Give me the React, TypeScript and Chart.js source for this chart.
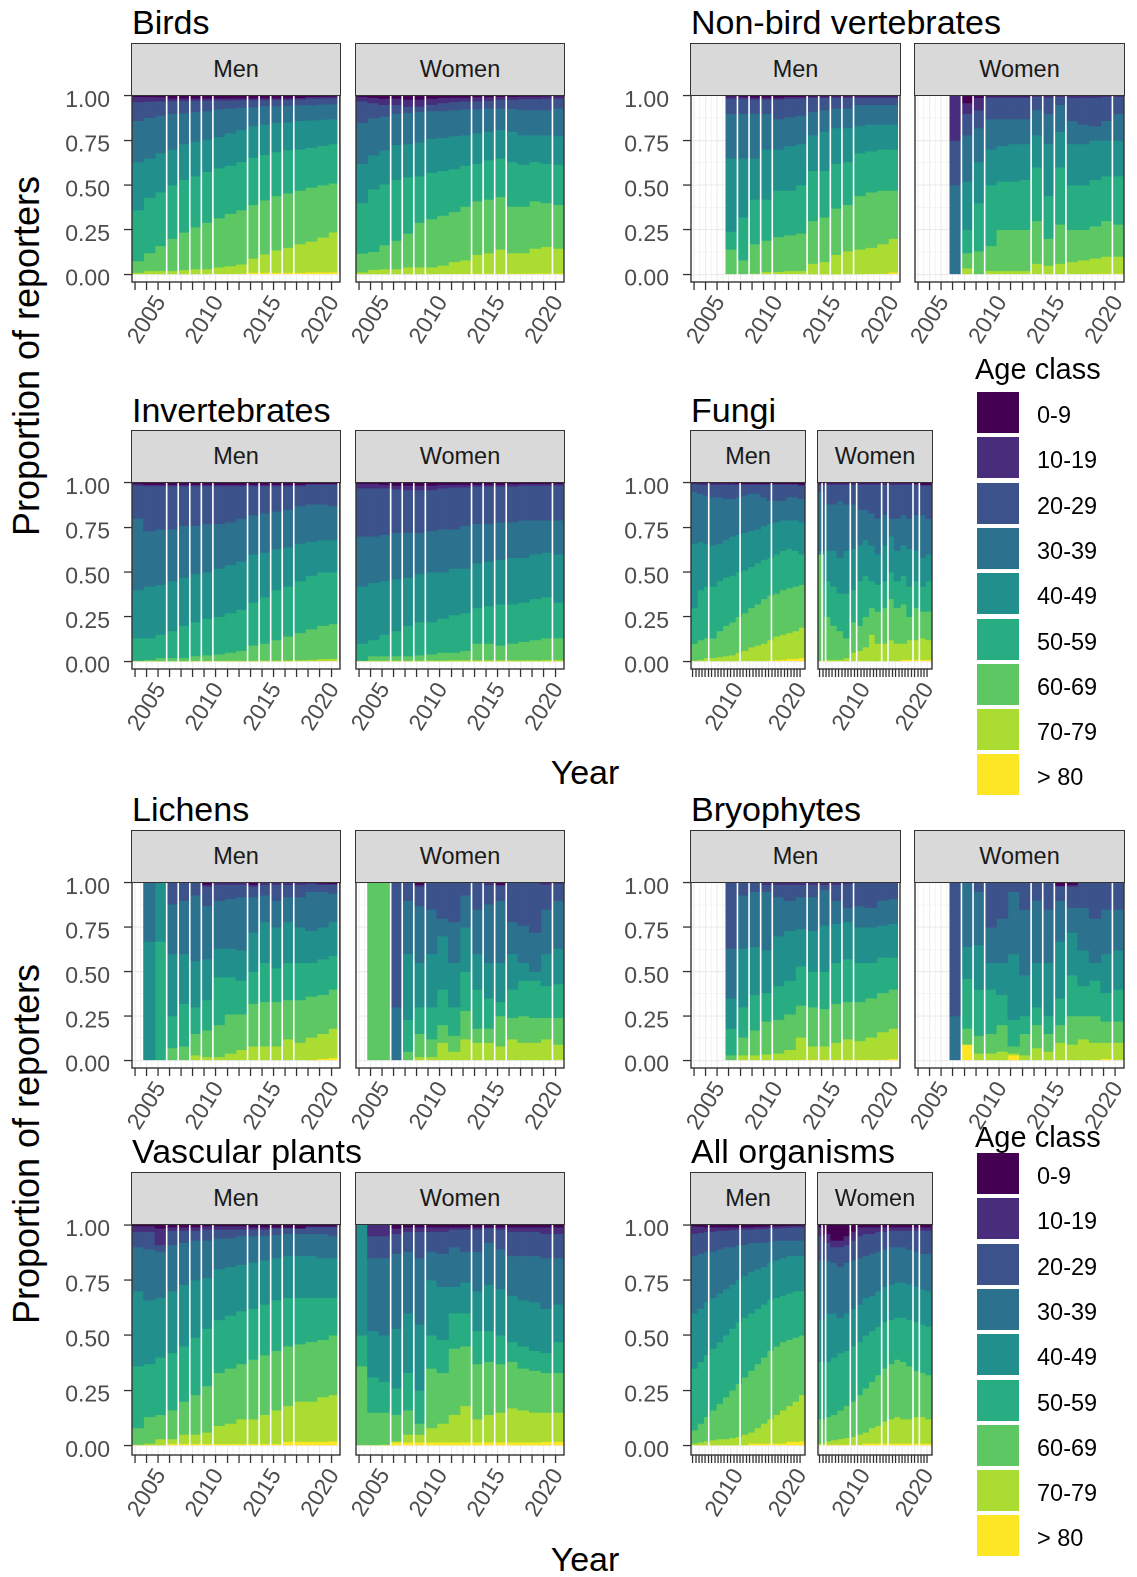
import React, { useEffect, useRef } from 'react';
import { Chart, registerables } from 'chart.js';

Chart.register(...registerables);

const N = null;

// ---------- data ----------
const years = [2003, 2004, 2005, 2006, 2007, 2008, 2009, 2010, 2011, 2012, 2013, 2014, 2015, 2016, 2017, 2018, 2019, 2020];
const halfYears = [2003.5, 2004.5, 2005.5, 2006.5, 2007.5, 2008.5, 2009.5, 2010.5, 2011.5, 2012.5, 2013.5, 2014.5, 2015.5, 2016.5, 2017.5, 2018.5, 2019.5];
const yMajorTicks = [0, 0.25, 0.5, 0.75, 1];
const yMinorTicks = [0.125, 0.375, 0.625, 0.875];
const wideYearLabels = [2005, 2010, 2015, 2020];
const narrowYearLabels = [2010, 2020];

const ageClasses = ['0-9', '10-19', '20-29', '30-39', '40-49', '50-59', '60-69', '70-79', '> 80'];
const ageColors = ['#440154', '#472D7B', '#3B528B', '#2C728E', '#21908C', '#27AD81', '#5DC863', '#AADC32', '#FDE725'];

// Cumulative share of reporters from the bottom of each bar, per year 2003-2020.
// Rows: top edge of "> 80", "70-79", "60-69", "50-59", "40-49", "30-39", "20-29", "10-19" (the rest is "0-9").
const birdsMen = [
  [0.003, 0.003, 0.003, 0.003, 0.003, 0.003, 0.003, 0.004, 0.004, 0.005, 0.010, 0.010, 0.010, 0.010, 0.010, 0.012, 0.012, 0.013],
  [0.010, 0.020, 0.020, 0.020, 0.025, 0.030, 0.030, 0.040, 0.047, 0.057, 0.090, 0.113, 0.136, 0.150, 0.170, 0.185, 0.207, 0.236],
  [0.075, 0.120, 0.160, 0.200, 0.235, 0.265, 0.290, 0.315, 0.340, 0.360, 0.390, 0.415, 0.440, 0.455, 0.470, 0.487, 0.500, 0.510],
  [0.360, 0.430, 0.460, 0.500, 0.530, 0.550, 0.575, 0.595, 0.610, 0.630, 0.655, 0.670, 0.685, 0.695, 0.700, 0.710, 0.720, 0.730],
  [0.630, 0.650, 0.680, 0.700, 0.730, 0.745, 0.755, 0.770, 0.790, 0.810, 0.830, 0.840, 0.850, 0.852, 0.860, 0.863, 0.867, 0.870],
  [0.860, 0.877, 0.890, 0.900, 0.903, 0.910, 0.915, 0.925, 0.930, 0.934, 0.937, 0.943, 0.943, 0.945, 0.947, 0.948, 0.952, 0.953],
  [0.965, 0.968, 0.970, 0.972, 0.972, 0.973, 0.974, 0.975, 0.976, 0.976, 0.977, 0.977, 0.978, 0.978, 0.980, 0.985, 0.986, 0.987],
  [0.995, 0.994, 0.993, 0.987, 0.987, 0.986, 0.986, 0.986, 0.987, 0.987, 0.987, 0.988, 0.988, 0.988, 0.989, 0.995, 0.996, 0.997],
];
const birdsWomen = [
  [0.003, 0.003, 0.003, 0.003, 0.003, 0.003, 0.003, 0.004, 0.004, 0.004, 0.005, 0.005, 0.005, 0.005, 0.005, 0.006, 0.006, 0.006],
  [0.013, 0.027, 0.030, 0.030, 0.040, 0.040, 0.040, 0.050, 0.070, 0.080, 0.110, 0.120, 0.140, 0.120, 0.120, 0.145, 0.155, 0.145],
  [0.117, 0.127, 0.165, 0.190, 0.230, 0.290, 0.310, 0.330, 0.350, 0.380, 0.410, 0.420, 0.435, 0.380, 0.380, 0.410, 0.400, 0.390],
  [0.400, 0.477, 0.505, 0.530, 0.545, 0.550, 0.570, 0.580, 0.590, 0.610, 0.620, 0.640, 0.650, 0.630, 0.615, 0.630, 0.620, 0.615],
  [0.620, 0.667, 0.695, 0.725, 0.730, 0.740, 0.760, 0.765, 0.775, 0.780, 0.790, 0.800, 0.810, 0.800, 0.780, 0.780, 0.780, 0.775],
  [0.850, 0.875, 0.885, 0.900, 0.905, 0.910, 0.915, 0.915, 0.920, 0.925, 0.925, 0.930, 0.930, 0.928, 0.920, 0.920, 0.920, 0.930],
  [0.970, 0.960, 0.950, 0.950, 0.940, 0.940, 0.950, 0.960, 0.966, 0.970, 0.970, 0.973, 0.979, 0.979, 0.983, 0.983, 0.985, 0.985],
  [0.995, 0.990, 0.985, 0.985, 0.980, 0.980, 0.985, 0.990, 0.990, 0.990, 0.993, 0.993, 0.995, 0.995, 0.997, 0.997, 0.998, 0.998],
];
const nbvMen = [
  [N, N, N, 0, 0, 0, 0, 0, 0, 0, 0.002, 0.002, 0.002, 0.003, 0.003, 0.004, 0.005, 0.012],
  [N, N, N, 0, 0, 0.005, 0.015, 0.015, 0.02, 0.02, 0.06, 0.07, 0.11, 0.13, 0.14, 0.15, 0.17, 0.2],
  [N, N, N, 0.14, 0.08, 0.17, 0.19, 0.21, 0.22, 0.23, 0.3, 0.32, 0.37, 0.39, 0.44, 0.46, 0.47, 0.47],
  [N, N, N, 0.24, 0.32, 0.42, 0.42, 0.47, 0.47, 0.5, 0.58, 0.58, 0.62, 0.63, 0.68, 0.69, 0.7, 0.7],
  [N, N, N, 0.65, 0.65, 0.65, 0.7, 0.7, 0.72, 0.73, 0.78, 0.8, 0.82, 0.82, 0.83, 0.84, 0.84, 0.84],
  [N, N, N, 0.9, 0.9, 0.9, 0.9, 0.87, 0.88, 0.89, 0.91, 0.92, 0.93, 0.93, 0.95, 0.95, 0.95, 0.95],
  [N, N, N, 0.985, 0.985, 0.98, 0.98, 0.98, 0.985, 0.985, 0.99, 0.99, 0.99, 0.99, 0.99, 0.99, 0.99, 0.99],
  [N, N, N, 0.998, 0.995, 0.99, 0.99, 0.99, 0.995, 0.995, 0.997, 0.997, 0.998, 0.998, 0.998, 0.998, 0.998, 0.998],
];
const nbvWomen = [
  [N, N, N, 0, 0, 0, 0, 0, 0, 0, 0, 0, 0, 0, 0, 0.005, 0.005, 0.005],
  [N, N, N, 0, 0.035, 0, 0.02, 0.02, 0.02, 0.02, 0.06, 0.05, 0.06, 0.07, 0.08, 0.09, 0.1, 0.1],
  [N, N, N, 0, 0.12, 0.13, 0.16, 0.25, 0.25, 0.25, 0.3, 0.2, 0.28, 0.25, 0.25, 0.27, 0.3, 0.28],
  [N, N, N, 0, 0.25, 0.4, 0.5, 0.52, 0.52, 0.53, 0.6, 0.44, 0.6, 0.5, 0.5, 0.53, 0.55, 0.55],
  [N, N, N, 0, 0.52, 0.63, 0.7, 0.72, 0.73, 0.73, 0.78, 0.73, 0.8, 0.73, 0.73, 0.75, 0.75, 0.75],
  [N, N, N, 0.5, 0.78, 0.82, 0.87, 0.87, 0.87, 0.87, 0.92, 0.9, 0.95, 0.86, 0.84, 0.83, 0.86, 0.9],
  [N, N, N, 0.75, 0.9, 0.92, 0.99, 0.99, 0.99, 0.99, 0.995, 0.99, 0.995, 0.99, 0.99, 0.99, 0.995, 0.995],
  [N, N, N, 1, 0.96, 0.99, 0.998, 0.998, 0.998, 0.998, 1, 1, 1, 1, 1, 1, 1, 1],
];
const invMen = [
  [0.002, 0.002, 0.002, 0.002, 0.002, 0.002, 0.002, 0.002, 0.002, 0.002, 0.002, 0.002, 0.002, 0.002, 0.003, 0.003, 0.004, 0.005],
  [0.003, 0.003, 0.003, 0.003, 0.003, 0.004, 0.004, 0.004, 0.005, 0.005, 0.005, 0.006, 0.006, 0.007, 0.008, 0.01, 0.015, 0.015],
  [0.005, 0.01, 0.02, 0.02, 0.02, 0.03, 0.035, 0.04, 0.05, 0.06, 0.09, 0.1, 0.12, 0.14, 0.16, 0.18, 0.2, 0.21],
  [0.13, 0.13, 0.15, 0.17, 0.2, 0.22, 0.24, 0.25, 0.27, 0.29, 0.33, 0.36, 0.4, 0.42, 0.45, 0.48, 0.5, 0.5],
  [0.4, 0.42, 0.43, 0.45, 0.47, 0.49, 0.5, 0.52, 0.54, 0.56, 0.6, 0.61, 0.63, 0.64, 0.66, 0.67, 0.68, 0.68],
  [0.8, 0.73, 0.74, 0.74, 0.76, 0.76, 0.77, 0.77, 0.78, 0.8, 0.82, 0.83, 0.84, 0.85, 0.87, 0.88, 0.88, 0.87],
  [0.985, 0.982, 0.982, 0.982, 0.982, 0.982, 0.982, 0.982, 0.982, 0.982, 0.982, 0.982, 0.982, 0.982, 0.982, 0.99, 0.99, 0.99],
  [0.995, 0.99, 0.99, 0.99, 0.99, 0.99, 0.99, 0.99, 0.99, 0.99, 0.99, 0.99, 0.99, 0.99, 0.99, 0.995, 0.995, 0.995],
];
const invWomen = [
  [0.002, 0.002, 0.002, 0.002, 0.002, 0.002, 0.002, 0.002, 0.002, 0.002, 0.002, 0.002, 0.002, 0.002, 0.002, 0.002, 0.002, 0.002],
  [0.004, 0.005, 0.005, 0.005, 0.005, 0.005, 0.006, 0.006, 0.008, 0.008, 0.008, 0.008, 0.008, 0.008, 0.008, 0.008, 0.01, 0.01],
  [0.005, 0.03, 0.03, 0.03, 0.03, 0.035, 0.04, 0.05, 0.05, 0.06, 0.1, 0.1, 0.09, 0.1, 0.11, 0.12, 0.13, 0.13],
  [0.1, 0.12, 0.15, 0.17, 0.2, 0.22, 0.22, 0.24, 0.26, 0.27, 0.3, 0.31, 0.32, 0.32, 0.33, 0.35, 0.36, 0.33],
  [0.42, 0.44, 0.45, 0.46, 0.47, 0.49, 0.5, 0.5, 0.52, 0.52, 0.55, 0.56, 0.57, 0.58, 0.58, 0.6, 0.61, 0.6],
  [0.7, 0.7, 0.71, 0.72, 0.72, 0.72, 0.73, 0.74, 0.74, 0.76, 0.77, 0.77, 0.78, 0.78, 0.79, 0.79, 0.79, 0.79],
  [0.97, 0.97, 0.97, 0.965, 0.96, 0.96, 0.96, 0.97, 0.975, 0.975, 0.98, 0.98, 0.98, 0.98, 0.985, 0.985, 0.985, 0.985],
  [0.995, 0.995, 0.99, 0.985, 0.985, 0.985, 0.985, 0.99, 0.99, 0.99, 0.99, 0.99, 0.99, 0.993, 0.995, 0.995, 0.995, 0.995],
];
const fungiMen = [
  [0.003, 0.003, 0.003, 0.003, 0.003, 0.003, 0.003, 0.003, 0.004, 0.004, 0.005, 0.005, 0.006, 0.008, 0.01, 0.015, 0.015, 0.02],
  [0.005, 0.01, 0.02, 0.02, 0.025, 0.03, 0.035, 0.05, 0.06, 0.08, 0.09, 0.1, 0.12, 0.14, 0.15, 0.16, 0.17, 0.19],
  [0.1, 0.12, 0.13, 0.13, 0.17, 0.2, 0.22, 0.25, 0.27, 0.3, 0.32, 0.35, 0.37, 0.38, 0.4, 0.41, 0.42, 0.43],
  [0.3, 0.4, 0.42, 0.42, 0.45, 0.47, 0.48, 0.5, 0.51, 0.53, 0.55, 0.57, 0.58, 0.6, 0.62, 0.63, 0.62, 0.6],
  [0.66, 0.67, 0.66, 0.65, 0.66, 0.68, 0.7, 0.71, 0.72, 0.73, 0.74, 0.76, 0.77, 0.78, 0.79, 0.79, 0.79, 0.78],
  [0.95, 0.94, 0.93, 0.92, 0.92, 0.91, 0.91, 0.92, 0.93, 0.94, 0.94, 0.92, 0.9, 0.9, 0.9, 0.92, 0.92, 0.91],
  [0.995, 0.99, 0.99, 0.99, 0.99, 0.99, 0.99, 0.99, 0.99, 0.99, 0.99, 0.99, 0.99, 0.99, 0.99, 0.99, 0.99, 0.985],
  [0.998, 0.998, 0.998, 0.998, 0.998, 0.998, 0.998, 0.995, 0.995, 0.995, 0.995, 0.995, 0.995, 0.995, 0.995, 0.995, 0.995, 0.99],
];
const fungiWomen = [
  [0.003, 0.003, 0.003, 0.003, 0.003, 0.003, 0.003, 0.003, 0.003, 0.003, 0.003, 0.003, 0.003, 0.01, 0.01, 0.01, 0.01, 0.01],
  [0.005, 0.01, 0.01, 0.01, 0.02, 0.05, 0.06, 0.08, 0.15, 0.1, 0.1, 0.12, 0.1, 0.1, 0.12, 0.12, 0.13, 0.12],
  [0.6, 0.25, 0.2, 0.17, 0.13, 0.22, 0.2, 0.25, 0.3, 0.28, 0.3, 0.35, 0.3, 0.32, 0.25, 0.3, 0.28, 0.28],
  [0.6, 0.45, 0.42, 0.38, 0.38, 0.4, 0.45, 0.48, 0.45, 0.43, 0.45, 0.5, 0.45, 0.48, 0.42, 0.45, 0.42, 0.45],
  [0.62, 0.62, 0.62, 0.58, 0.62, 0.63, 0.65, 0.68, 0.65, 0.6, 0.65, 0.7, 0.62, 0.65, 0.63, 0.62, 0.58, 0.6],
  [0.95, 0.88, 0.88, 0.9, 0.88, 0.88, 0.85, 0.85, 0.83, 0.8, 0.82, 0.8, 0.8, 0.82, 0.8, 0.82, 0.82, 0.8],
  [0.99, 0.99, 0.99, 0.99, 0.99, 0.99, 0.99, 0.99, 0.99, 0.99, 0.99, 0.99, 0.99, 0.99, 0.99, 0.99, 0.985, 0.985],
  [0.998, 0.998, 0.998, 0.998, 0.998, 0.998, 0.998, 0.998, 0.998, 0.998, 0.998, 0.998, 0.998, 0.998, 0.998, 0.995, 0.99, 0.99],
];
const lichensMen = [
  [N, 0, 0, 0, 0, 0, 0, 0, 0, 0, 0, 0, 0, 0, 0, 0.003, 0.01, 0.015],
  [N, 0, 0, 0, 0, 0.03, 0.02, 0.02, 0.04, 0.06, 0.08, 0.08, 0.08, 0.12, 0.1, 0.13, 0.15, 0.18],
  [N, 0, 0, 0.07, 0.08, 0.15, 0.17, 0.2, 0.26, 0.26, 0.32, 0.33, 0.33, 0.34, 0.34, 0.36, 0.37, 0.4],
  [N, 0, 0.67, 0.25, 0.32, 0.3, 0.34, 0.47, 0.47, 0.45, 0.5, 0.55, 0.52, 0.55, 0.55, 0.55, 0.57, 0.59],
  [N, 0.67, 1, 0.6, 0.6, 0.56, 0.57, 0.63, 0.63, 0.62, 0.72, 0.78, 0.75, 0.78, 0.75, 0.73, 0.75, 0.78],
  [N, 1, 1, 0.88, 0.9, 0.93, 0.87, 0.9, 0.91, 0.92, 0.92, 0.93, 0.9, 0.92, 0.92, 0.95, 0.95, 0.94],
  [N, 1, 1, 1, 1, 1, 0.98, 0.99, 0.99, 0.99, 0.98, 0.99, 0.99, 0.99, 0.99, 0.995, 0.99, 0.99],
  [N, 1, 1, 1, 1, 1, 0.99, 1, 1, 1, 0.99, 1, 1, 1, 1, 1, 0.997, 0.995],
];
const lichensWomen = [
  [N, 0, 0, 0, 0, 0, 0, 0, 0, 0, 0, 0, 0, 0, 0, 0, 0, 0.005],
  [N, 0, 0, 0, 0, 0.02, 0.02, 0.1, 0.05, 0.12, 0.1, 0.1, 0.08, 0.12, 0.1, 0.1, 0.12, 0.09],
  [N, 1, 1, 0, 0.05, 0.15, 0.12, 0.2, 0.14, 0.28, 0.18, 0.18, 0.25, 0.24, 0.25, 0.24, 0.24, 0.24],
  [N, 1, 1, 0, 0.23, 0.3, 0.3, 0.4, 0.3, 0.5, 0.4, 0.35, 0.33, 0.4, 0.45, 0.45, 0.42, 0.43],
  [N, 1, 1, 0, 0.6, 0.55, 0.6, 0.7, 0.55, 0.75, 0.6, 0.55, 0.55, 0.6, 0.55, 0.5, 0.6, 0.63],
  [N, 1, 1, 0.3, 0.9, 0.87, 0.85, 0.8, 0.78, 0.93, 0.85, 0.88, 0.9, 0.78, 0.76, 0.72, 0.85, 0.9],
  [N, 1, 1, 1, 1, 0.98, 1, 1, 1, 1, 1, 0.99, 0.985, 1, 1, 1, 0.99, 0.995],
  [N, 1, 1, 1, 1, 0.99, 1, 1, 1, 1, 1, 1, 0.99, 1, 1, 1, 1, 1],
];
const bryoMen = [
  [N, N, N, 0, 0, 0, 0, 0, 0, 0.005, 0.005, 0.005, 0.005, 0.005, 0.005, 0.005, 0.005, 0.01],
  [N, N, N, 0, 0.03, 0.03, 0.035, 0.04, 0.06, 0.13, 0.08, 0.08, 0.1, 0.12, 0.11, 0.13, 0.16, 0.18],
  [N, N, N, 0.03, 0.13, 0.17, 0.22, 0.23, 0.26, 0.31, 0.3, 0.29, 0.32, 0.33, 0.33, 0.35, 0.38, 0.4],
  [N, N, N, 0.18, 0.3, 0.37, 0.38, 0.42, 0.45, 0.53, 0.5, 0.5, 0.55, 0.57, 0.55, 0.55, 0.58, 0.58],
  [N, N, N, 0.35, 0.63, 0.64, 0.62, 0.7, 0.73, 0.74, 0.73, 0.76, 0.77, 0.78, 0.75, 0.75, 0.76, 0.77],
  [N, N, N, 0.63, 0.93, 0.95, 0.95, 0.92, 0.9, 0.92, 0.92, 0.96, 0.9, 0.86, 0.87, 0.86, 0.9, 0.91],
  [N, N, N, 1, 1, 1, 0.99, 0.99, 0.99, 0.99, 0.99, 0.99, 0.99, 0.995, 1, 1, 1, 1],
  [N, N, N, 1, 1, 1, 1, 1, 1, 1, 1, 1, 1, 1, 1, 1, 1, 1],
];
const bryoWomen = [
  [N, N, N, 0, 0.09, 0, 0, 0, 0.03, 0, 0, 0, 0, 0, 0, 0, 0.01, 0.005],
  [N, N, N, 0, 0.09, 0.04, 0.04, 0.05, 0.04, 0.03, 0.07, 0.05, 0.1, 0.09, 0.12, 0.1, 0.1, 0.1],
  [N, N, N, 0, 0.18, 0.14, 0.15, 0.2, 0.08, 0.15, 0.2, 0.15, 0.2, 0.25, 0.25, 0.25, 0.22, 0.22],
  [N, N, N, 0, 0.46, 0.4, 0.4, 0.37, 0.23, 0.25, 0.3, 0.25, 0.35, 0.48, 0.42, 0.45, 0.38, 0.4],
  [N, N, N, 0, 0.64, 0.65, 0.55, 0.55, 0.6, 0.48, 0.55, 0.55, 0.67, 0.72, 0.62, 0.55, 0.6, 0.62],
  [N, N, N, 0.25, 1, 0.95, 0.75, 0.8, 0.95, 0.85, 0.9, 0.85, 0.9, 0.86, 0.86, 0.8, 0.85, 0.85],
  [N, N, N, 1, 1, 1, 1, 1, 1, 1, 1, 1, 0.98, 0.98, 1, 1, 1, 1],
  [N, N, N, 1, 1, 1, 1, 1, 1, 1, 1, 1, 0.985, 0.99, 1, 1, 1, 1],
];
const vascMen = [
  [0.003, 0.003, 0.003, 0.008, 0.008, 0.008, 0.008, 0.008, 0.008, 0.008, 0.008, 0.008, 0.008, 0.018, 0.018, 0.018, 0.018, 0.02],
  [0.005, 0.01, 0.03, 0.03, 0.05, 0.05, 0.06, 0.09, 0.1, 0.12, 0.12, 0.14, 0.16, 0.18, 0.2, 0.2, 0.22, 0.23],
  [0.08, 0.13, 0.14, 0.16, 0.2, 0.23, 0.27, 0.33, 0.35, 0.37, 0.39, 0.41, 0.43, 0.45, 0.46, 0.47, 0.48, 0.5],
  [0.36, 0.37, 0.4, 0.42, 0.45, 0.49, 0.53, 0.57, 0.59, 0.61, 0.62, 0.64, 0.66, 0.67, 0.67, 0.67, 0.67, 0.67],
  [0.7, 0.66, 0.67, 0.7, 0.73, 0.75, 0.76, 0.8, 0.81, 0.82, 0.83, 0.84, 0.85, 0.86, 0.86, 0.86, 0.85, 0.85],
  [0.9, 0.89, 0.88, 0.91, 0.92, 0.93, 0.93, 0.94, 0.94, 0.95, 0.95, 0.95, 0.955, 0.96, 0.96, 0.96, 0.96, 0.95],
  [0.97, 0.97, 0.91, 0.975, 0.975, 0.975, 0.98, 0.98, 0.98, 0.98, 0.98, 0.98, 0.985, 0.985, 0.985, 0.99, 0.99, 0.99],
  [0.995, 0.995, 0.985, 0.99, 0.99, 0.99, 0.995, 0.995, 0.995, 0.995, 0.99, 0.99, 0.99, 0.99, 0.985, 0.995, 0.995, 0.995],
];
const vascWomen = [
  [0.003, 0.003, 0.003, 0.015, 0.015, 0.015, 0.015, 0.015, 0.015, 0.015, 0.015, 0.015, 0.015, 0.015, 0.015, 0.015, 0.018, 0.018],
  [0.003, 0.003, 0.005, 0.02, 0.05, 0.05, 0.08, 0.1, 0.14, 0.18, 0.12, 0.14, 0.15, 0.17, 0.16, 0.15, 0.15, 0.15],
  [0.36, 0.15, 0.15, 0.14, 0.16, 0.1, 0.35, 0.33, 0.44, 0.45, 0.37, 0.38, 0.37, 0.38, 0.35, 0.34, 0.33, 0.33],
  [0.5, 0.31, 0.29, 0.26, 0.33, 0.25, 0.5, 0.48, 0.6, 0.6, 0.52, 0.52, 0.5, 0.47, 0.45, 0.43, 0.42, 0.47],
  [1, 0.52, 0.5, 0.53, 0.6, 0.55, 0.75, 0.72, 0.72, 0.74, 0.7, 0.73, 0.71, 0.68, 0.66, 0.65, 0.62, 0.64],
  [1, 0.85, 0.85, 0.87, 0.88, 0.85, 0.88, 0.87, 0.9, 0.88, 0.88, 0.92, 0.89, 0.86, 0.86, 0.86, 0.85, 0.85],
  [1, 0.95, 0.95, 0.96, 0.97, 0.97, 0.97, 0.97, 0.98, 0.98, 0.98, 0.985, 0.98, 0.97, 0.97, 0.97, 0.96, 0.96],
  [1, 1, 1, 0.985, 0.99, 0.99, 0.99, 0.99, 0.99, 0.99, 0.99, 0.99, 0.99, 0.99, 0.99, 0.99, 0.99, 0.99],
];
const allMen = [
  [0.003, 0.003, 0.003, 0.003, 0.003, 0.003, 0.003, 0.003, 0.003, 0.01, 0.01, 0.01, 0.01, 0.01, 0.01, 0.018, 0.018, 0.02],
  [0.01, 0.015, 0.02, 0.025, 0.03, 0.03, 0.035, 0.04, 0.05, 0.06, 0.08, 0.1, 0.12, 0.14, 0.16, 0.18, 0.2, 0.23],
  [0.07, 0.1, 0.13, 0.16, 0.19, 0.22, 0.25, 0.28, 0.31, 0.34, 0.37, 0.4, 0.43, 0.45, 0.47, 0.48, 0.49, 0.5],
  [0.35, 0.38, 0.41, 0.44, 0.47, 0.5, 0.53, 0.56, 0.58, 0.6, 0.62, 0.64, 0.66, 0.67, 0.68, 0.69, 0.7, 0.7],
  [0.6, 0.62, 0.65, 0.67, 0.69, 0.71, 0.73, 0.75, 0.77, 0.79, 0.8, 0.81, 0.83, 0.84, 0.85, 0.86, 0.86, 0.86],
  [0.86, 0.87, 0.88, 0.88, 0.89, 0.9, 0.9, 0.91, 0.91, 0.92, 0.92, 0.92, 0.925, 0.93, 0.93, 0.93, 0.93, 0.93],
  [0.96, 0.965, 0.97, 0.97, 0.975, 0.975, 0.978, 0.98, 0.98, 0.98, 0.982, 0.983, 0.985, 0.985, 0.987, 0.988, 0.99, 0.99],
  [0.995, 0.993, 0.99, 0.99, 0.99, 0.99, 0.99, 0.99, 0.99, 0.99, 0.992, 0.993, 0.994, 0.995, 0.996, 0.997, 0.998, 0.998],
];
const allWomen = [
  [0.005, 0.005, 0.005, 0.005, 0.005, 0.005, 0.005, 0.01, 0.01, 0.01, 0.01, 0.01, 0.01, 0.01, 0.01, 0.01, 0.01, 0.01],
  [0.01, 0.02, 0.025, 0.03, 0.035, 0.04, 0.05, 0.06, 0.08, 0.09, 0.11, 0.12, 0.13, 0.12, 0.12, 0.13, 0.13, 0.12],
  [0.12, 0.13, 0.14, 0.16, 0.18, 0.2, 0.23, 0.26, 0.29, 0.32, 0.35, 0.37, 0.39, 0.38, 0.36, 0.34, 0.33, 0.32],
  [0.38, 0.38, 0.4, 0.42, 0.43, 0.45, 0.47, 0.5, 0.52, 0.54, 0.56, 0.57, 0.58, 0.58, 0.57, 0.56, 0.55, 0.54],
  [0.57, 0.6, 0.6, 0.58, 0.6, 0.62, 0.64, 0.67, 0.68, 0.7, 0.72, 0.73, 0.74, 0.74, 0.73, 0.72, 0.71, 0.7],
  [0.84, 0.84, 0.83, 0.81, 0.83, 0.84, 0.85, 0.86, 0.87, 0.88, 0.89, 0.9, 0.9, 0.9, 0.89, 0.88, 0.87, 0.87],
  [0.95, 0.92, 0.9, 0.9, 0.91, 0.93, 0.95, 0.96, 0.96, 0.97, 0.97, 0.975, 0.975, 0.975, 0.975, 0.975, 0.975, 0.975],
  [0.99, 0.96, 0.93, 0.93, 0.95, 0.97, 0.99, 0.99, 0.99, 0.99, 0.99, 0.99, 0.99, 0.99, 0.99, 0.99, 0.99, 0.99],
];

// white seams between bars, in year units
const leftMenGaps = [2005.5, 2006.5, 2007.5, 2008.5, 2009.5, 2012.5, 2013.5, 2014.5, 2015.5, 2016.5, 2020.35];
const leftWomenGaps = [2005.5, 2006.5, 2007.5, 2008.5, 2012.5, 2013.5, 2014.5, 2015.5, 2019.5];
const rightMenGaps = [2006.5, 2007.5, 2008.5, 2009.5, 2012.5, 2013.5, 2014.5, 2015.5, 2016.5, 2020.4];
const rightWomenGaps = [2006.5, 2007.5, 2008.5, 2012.5, 2013.5, 2014.5, 2015.5, 2019.5];
const narrowMenGaps = [2005.3, 2010.25, 2015.2];
const narrowWomenGaps = [2003.15, 2003.7, 2007.6, 2008.6, 2012.55, 2013.55, 2017.5, 2018.5];

// ---------- layout ----------
const FONT = '"Liberation Sans", Arial, Helvetica, sans-serif';
const Y_AXIS_W = 80;
const Y_AXIS_W_EMPTY = 34;
const PAD_T = 14;
const PAD_R = 12;
const X_AXIS_H = 80;

type PanelCfg = {
  bounds: (number | null)[][];
  L: number; R: number; T: number; B: number;
  showY: boolean;
  labels: number[];
  gaps: number[];
  dense: boolean;
};

function makeConfig(cfg: PanelCfg): any {
  const { bounds, showY, labels, gaps, dense } = cfg;
  const xTicks = [...years, ...halfYears].sort((a, b) => a - b);
  const yTicks = [...yMajorTicks, ...yMinorTicks].sort((a, b) => a - b);
  const barPx = (cfg.R - cfg.L) / years.length;
  const datasets = ageClasses.map((name, k) => {
    const lower = 7 - k;
    const upper = 8 - k;
    const data: any[] = [];
    years.forEach((yr, i) => {
      if (bounds[0][i] === null) return;
      const lo = lower < 0 ? 0 : (bounds[lower][i] as number);
      const hi = upper > 7 ? 1 : (bounds[upper][i] as number);
      if (hi - lo <= 0) return;
      data.push({ x: yr, y: [lo, hi] });
    });
    return {
      label: name,
      data,
      backgroundColor: ageColors[k],
      borderWidth: 0,
      grouped: false,
      barThickness: barPx,
    };
  });
  const isMajorX = (c: any) => c.tick && Number.isInteger(c.tick.value);
  const hasTickMark = (c: any) => c.tick && (dense || Number.isInteger(c.tick.value));
  const isMajorY = (c: any) => c.tick && yMajorTicks.includes(c.tick.value);
  const decor = {
    id: 'panelDecor',
    afterDatasetsDraw(chart: any) {
      const { ctx, chartArea, scales } = chart;
      const x = scales.x;
      const y = scales.y;
      const y0 = y.getPixelForValue(0);
      const y1 = y.getPixelForValue(1);
      ctx.save();
      ctx.strokeStyle = '#FFFFFF';
      ctx.lineWidth = 1.6;
      gaps.forEach((g) => {
        const px = x.getPixelForValue(g);
        ctx.beginPath();
        ctx.moveTo(px, y0);
        ctx.lineTo(px, y1);
        ctx.stroke();
      });
      ctx.strokeStyle = '#333333';
      ctx.lineWidth = 1.4;
      ctx.strokeRect(chartArea.left, chartArea.top, chartArea.right - chartArea.left, chartArea.bottom - chartArea.top);
      ctx.restore();
    },
  };
  return {
    type: 'bar',
    data: { datasets },
    plugins: [decor],
    options: {
      animation: false,
      responsive: false,
      devicePixelRatio: 2,
      events: [],
      layout: { padding: { top: PAD_T, right: PAD_R, left: 0, bottom: 0 } },
      plugins: { legend: { display: false }, tooltip: { enabled: false }, title: { display: false } },
      scales: {
        x: {
          type: 'linear',
          min: 2002.5,
          max: 2020.5,
          offset: false,
          afterBuildTicks: (s: any) => { s.ticks = xTicks.map((v) => ({ value: v })); },
          afterFit: (s: any) => { s.height = X_AXIS_H; s.paddingLeft = 0; s.paddingRight = 0; s.paddingTop = 0; s.paddingBottom = 0; },
          ticks: {
            autoSkip: false,
            minRotation: 58,
            maxRotation: 58,
            padding: 1,
            color: '#4D4D4D',
            font: { family: FONT, size: 23 },
            callback: (v: number) => (labels.includes(v) ? String(v) : ''),
          },
          grid: {
            color: '#EBEBEB',
            lineWidth: (c: any) => (isMajorX(c) ? 1.1 : 0.55),
            drawTicks: true,
            tickLength: 8,
            tickColor: (c: any) => (hasTickMark(c) ? '#333333' : 'rgba(0,0,0,0)'),
            tickWidth: 1.3,
          },
          border: { display: false },
        },
        y: {
          type: 'linear',
          min: -0.043,
          max: 1.004,
          afterBuildTicks: (s: any) => { s.ticks = yTicks.map((v) => ({ value: v })); },
          afterFit: (s: any) => { s.width = showY ? Y_AXIS_W : Y_AXIS_W_EMPTY; s.paddingTop = 0; s.paddingBottom = 0; s.paddingLeft = 0; s.paddingRight = 0; },
          ticks: {
            display: showY,
            autoSkip: false,
            padding: 14,
            labelOffset: 5,
            color: '#4D4D4D',
            font: { family: FONT, size: 23 },
            callback: (v: number) => (yMajorTicks.includes(v) ? v.toFixed(2) : ''),
          },
          grid: {
            color: '#EBEBEB',
            lineWidth: (c: any) => (isMajorY(c) ? 1.1 : 0.55),
            drawTicks: showY,
            tickLength: 8,
            tickColor: (c: any) => (isMajorY(c) ? '#333333' : 'rgba(0,0,0,0)'),
            tickWidth: 1.3,
          },
          border: { display: false },
        },
      },
    },
  };
}

function Panel({ cfg }: { cfg: PanelCfg }) {
  const ref = useRef<HTMLCanvasElement>(null);
  useEffect(() => {
    const chart = new Chart(ref.current as HTMLCanvasElement, makeConfig(cfg));
    return () => chart.destroy();
  }, []);
  const yW = cfg.showY ? Y_AXIS_W : Y_AXIS_W_EMPTY;
  const w = yW + (cfg.R - cfg.L) + PAD_R;
  const h = PAD_T + (cfg.B - cfg.T) + X_AXIS_H;
  return (
    <div style={{ position: 'absolute', left: cfg.L - yW, top: cfg.T - PAD_T, width: w, height: h }}>
      <canvas ref={ref} width={w} height={h} style={{ width: w, height: h, display: 'block' }} />
    </div>
  );
}

function Strip({ L, R, top, bottom, text }: { L: number; R: number; top: number; bottom: number; text: string }) {
  return (
    <div
      style={{
        position: 'absolute', left: L - 0.7, top, width: R - L + 1.4, height: bottom - top + 0.7,
        background: '#D9D9D9', border: '1.4px solid #333333', boxSizing: 'border-box',
        display: 'flex', alignItems: 'center', justifyContent: 'center',
        fontSize: 23.5, color: '#1A1A1A', whiteSpace: 'nowrap',
      }}
    >
      {text}
    </div>
  );
}

function TextAt({ left, baseline, size, text, width, align }: { left: number; baseline: number; size: number; text: string; width?: number; align?: 'left' | 'center' }) {
  return (
    <div
      style={{
        position: 'absolute', left, top: baseline - 0.8465 * size, fontSize: size, lineHeight: `${size}px`,
        whiteSpace: 'nowrap', color: '#000000', width, textAlign: align || 'left',
      }}
    >
      {text}
    </div>
  );
}

function YTitle({ cx, cy }: { cx: number; cy: number }) {
  const W = 540;
  const H = 42;
  return (
    <div
      style={{
        position: 'absolute', left: cx - W / 2, top: cy - H / 2, width: W, height: H, lineHeight: `${H}px`,
        textAlign: 'center', fontSize: 36, transform: 'rotate(-90deg)', whiteSpace: 'nowrap', color: '#000',
      }}
    >
      Proportion of reporters
    </div>
  );
}

function Legend({ keyTop, titleBaseline }: { keyTop: number; titleBaseline: number }) {
  return (
    <>
      <TextAt left={975} baseline={titleBaseline} size={29} text="Age class" />
      {ageClasses.map((c, i) => (
        <React.Fragment key={c}>
          <div style={{ position: 'absolute', left: 977, top: keyTop + i * 45.3, width: 42, height: 41, background: ageColors[i] }} />
          <div style={{ position: 'absolute', left: 1037, top: keyTop + i * 45.3 + 3, height: 41, lineHeight: '41px', fontSize: 23.5, color: '#000', whiteSpace: 'nowrap' }}>{c}</div>
        </React.Fragment>
      ))}
    </>
  );
}

const LEFT_M = [132, 340];
const LEFT_W = [356, 564];
const RIGHT_M = [691, 900];
const RIGHT_W = [915, 1124];
const NAR_M = [691, 805];
const NAR_W = [818, 932];
const ROWS = [
  { stripTop: 43, T: 95, B: 282, titleBase: 34 },
  { stripTop: 430, T: 482, B: 669, titleBase: 422 },
  { stripTop: 830, T: 882, B: 1068, titleBase: 821 },
  { stripTop: 1172, T: 1224, B: 1455, titleBase: 1163 },
];

const facets = [
  { title: 'Birds', row: 0, men: LEFT_M, women: LEFT_W, data: [birdsMen, birdsWomen], labels: wideYearLabels, gaps: [leftMenGaps, leftWomenGaps], dense: false },
  { title: 'Non-bird vertebrates', row: 0, men: RIGHT_M, women: RIGHT_W, data: [nbvMen, nbvWomen], labels: wideYearLabels, gaps: [rightMenGaps, rightWomenGaps], dense: false },
  { title: 'Invertebrates', row: 1, men: LEFT_M, women: LEFT_W, data: [invMen, invWomen], labels: wideYearLabels, gaps: [leftMenGaps, leftWomenGaps], dense: false },
  { title: 'Fungi', row: 1, men: NAR_M, women: NAR_W, data: [fungiMen, fungiWomen], labels: narrowYearLabels, gaps: [narrowMenGaps, narrowWomenGaps], dense: true },
  { title: 'Lichens', row: 2, men: LEFT_M, women: LEFT_W, data: [lichensMen, lichensWomen], labels: wideYearLabels, gaps: [leftMenGaps, leftWomenGaps], dense: false },
  { title: 'Bryophytes', row: 2, men: RIGHT_M, women: RIGHT_W, data: [bryoMen, bryoWomen], labels: wideYearLabels, gaps: [rightMenGaps, rightWomenGaps], dense: false },
  { title: 'Vascular plants', row: 3, men: LEFT_M, women: LEFT_W, data: [vascMen, vascWomen], labels: wideYearLabels, gaps: [leftMenGaps, leftWomenGaps], dense: false },
  { title: 'All organisms', row: 3, men: NAR_M, women: NAR_W, data: [allMen, allWomen], labels: narrowYearLabels, gaps: [narrowMenGaps, narrowWomenGaps], dense: true },
];

export default function App() {
  return (
    <div
      style={{
        position: 'absolute', left: 0, top: 0, width: 1137, height: 1577, overflow: 'hidden',
        background: '#FFFFFF', fontFamily: FONT,
      }}
    >
      {facets.map((f) => {
        const r = ROWS[f.row];
        const sides = [
          { name: 'Men', xs: f.men, bounds: f.data[0], gaps: f.gaps[0], showY: true },
          { name: 'Women', xs: f.women, bounds: f.data[1], gaps: f.gaps[1], showY: false },
        ];
        return (
          <React.Fragment key={f.title}>
            {sides.map((s) => (
              <Panel
                key={s.name}
                cfg={{ bounds: s.bounds, L: s.xs[0], R: s.xs[1], T: r.T, B: r.B, showY: s.showY, labels: f.labels, gaps: s.gaps, dense: f.dense }}
              />
            ))}
            {sides.map((s) => (
              <Strip key={s.name + 's'} L={s.xs[0]} R={s.xs[1]} top={r.stripTop} bottom={r.T} text={s.name} />
            ))}
            <TextAt left={f.men[0]} baseline={r.titleBase} size={34} text={f.title} />
          </React.Fragment>
        );
      })}
      <YTitle cx={27} cy={356} />
      <YTitle cx={27} cy={1144} />
      <TextAt left={485} width={200} align="center" baseline={784} size={34} text="Year" />
      <TextAt left={485} width={200} align="center" baseline={1571} size={34} text="Year" />
      <Legend keyTop={392} titleBaseline={380} />
      <Legend keyTop={1153} titleBaseline={1148} />
    </div>
  );
}
